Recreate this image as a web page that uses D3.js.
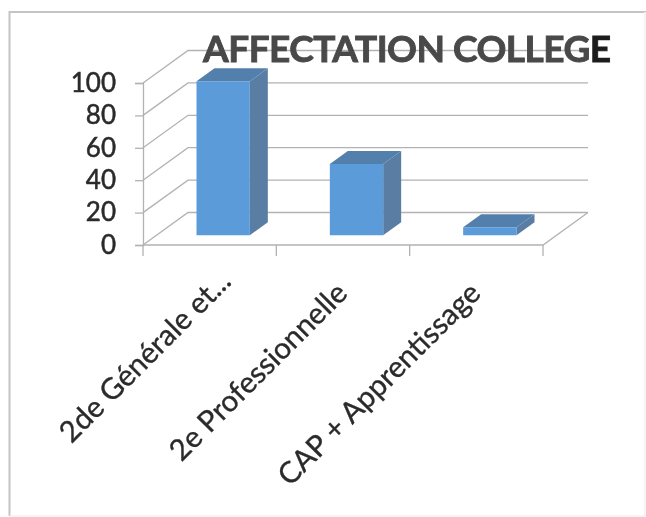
<!DOCTYPE html>
<html>
<head>
<meta charset="utf-8">
<script src="https://cdn.jsdelivr.net/npm/d3@7"></script>
<style>
  body { margin: 0; background: #fff; }
  text { font-family: Lato, sans-serif; }
</style>
</head>
<body>
<div id="chart"></div>
<script>
var categories = ["2de Générale et...", "2e Professionnelle", "CAP + Apprentissage"];
var values = [95, 44, 5];
var yTicks = [0, 20, 40, 60, 80, 100];

var svgWidth = 646;
var svgHeight = 517;

// depth of the 3d box: back wall is shifted this far from the front plane
var depthX = 45;
var depthY = -32.5;
var barFront = 0.3;
var barBack = 0.7;

var svg = d3.select("#chart")
  .append("svg")
  .attr("width", svgWidth)
  .attr("height", svgHeight)
  .style("display", "block");

// the reference is a scan, everything is slightly soft
svg.append("filter")
  .attr("id", "soft")
  .append("feGaussianBlur")
  .attr("stdDeviation", 0.5);

var root = svg.append("g").attr("filter", "url(#soft)");

var xScale = d3.scaleBand()
  .domain(categories)
  .range([143, 543]);

var yScale = d3.scaleLinear()
  .domain([0, 100])
  .range([245, 83]);

// page frame
root.append("path")
  .attr("d", "M646,12H9.5V516")
  .attr("fill", "none")
  .attr("stroke", "#c4c4c4")
  .attr("stroke-width", 2);
root.append("path")
  .attr("d", "M9.5,516H646M645,12V516")
  .attr("fill", "none")
  .attr("stroke", "#f2f2f2")
  .attr("stroke-width", 1.5);

// walls
var x0 = xScale.range()[0];
var x1 = xScale.range()[1];

var gridColor = "#b2b2b2";

root.selectAll(".grid")
  .data(yTicks)
  .enter()
  .append("path")
  .attr("class", "grid")
  .attr("fill", "none")
  .attr("stroke", gridColor)
  .attr("stroke-width", 1.3)
  .attr("d", function(d) {
    var y = yScale(d);
    return "M" + x0 + "," + y + "L" + (x0 + depthX) + "," + (y + depthY) + "H" + (x1 + depthX);
  });

// floor
root.append("path")
  .attr("d", "M" + x0 + "," + yScale(0) + "H" + x1 + "L" + (x1 + depthX) + "," + (yScale(0) + depthY))
  .attr("fill", "none")
  .attr("stroke", gridColor)
  .attr("stroke-width", 1.3);

// y axis
var leftAxis = d3.axisLeft(yScale)
  .tickValues(yTicks)
  .tickSize(8)
  .tickPadding(19);

var yAxis = root.append("g")
  .attr("transform", "translate(" + x0 + ",0)")
  .call(leftAxis);
yAxis.select(".domain").attr("stroke", gridColor).attr("stroke-width", 1.3);
yAxis.selectAll("line").attr("stroke", gridColor).attr("stroke-width", 1.3);
yAxis.selectAll("text")
  .attr("font-size", 26)
  .attr("fill", "#2b2b2b")
  .attr("stroke", "#2b2b2b")
  .attr("stroke-width", 0.5);
yAxis.style("font-family", null);

// x axis, ticks sit between the categories
root.selectAll(".xtick")
  .data(categories.concat([null]))
  .enter()
  .append("line")
  .attr("class", "xtick")
  .attr("x1", function(d) { return d === null ? x1 : xScale(d); })
  .attr("x2", function(d) { return d === null ? x1 : xScale(d); })
  .attr("y1", yScale(0))
  .attr("y2", yScale(0) + 11)
  .attr("stroke", gridColor)
  .attr("stroke-width", 1.3);

var bottomAxis = d3.axisBottom(xScale).tickSize(0);
var xAxis = root.append("g")
  .attr("transform", "translate(0," + yScale(0) + ")")
  .call(bottomAxis);
xAxis.select(".domain").remove();

// the truncated first label ends further right than the other two
function labelX(c, i) { return i === 0 ? 23 : 6; }
function labelY(c, i) { return i === 0 ? 38 : 50; }

xAxis.selectAll("text")
  .attr("font-size", 29.5)
  .attr("fill", "#2b2b2b")
  .attr("stroke", "#2b2b2b")
  .attr("stroke-width", 0.35)
  .attr("text-anchor", "end")
  .attr("x", labelX)
  .attr("y", labelY)
  .attr("dy", 0)
  .attr("transform", function(c, i) {
    return "rotate(-45 " + labelX(c, i) + " " + labelY(c, i) + ")";
  });

// bars
var barWidth = xScale.bandwidth() * 0.4;

function pt(x, v, z) {
  return [x + z * depthX, yScale(v) + z * depthY];
}

var bars = root.selectAll(".bar")
  .data(categories)
  .enter()
  .append("g")
  .attr("class", "bar");

function face(fill, corners) {
  bars.append("path")
    .attr("fill", fill)
    .attr("d", function(c, i) {
      var left = xScale(c) + (xScale.bandwidth() - barWidth) / 2;
      return d3.line()(corners(left, left + barWidth, values[i])) + "Z";
    });
}

// side
face("#5a7ea3", function(l, r, v) {
  return [pt(r, 0, barFront), pt(r, 0, barBack), pt(r, v, barBack), pt(r, v, barFront)];
});
// top
face("#527fac", function(l, r, v) {
  return [pt(l, v, barFront), pt(l, v, barBack), pt(r, v, barBack), pt(r, v, barFront)];
});
// front
face("#5b9bd9", function(l, r, v) {
  return [pt(l, 0, barFront), pt(l, v, barFront), pt(r, v, barFront), pt(r, 0, barFront)];
});

// title, the last letter came out darker on the scan
var title = root.append("text")
  .attr("x", 203)
  .attr("y", 62)
  .attr("font-size", 37)
  .attr("font-weight", 700)
  .attr("letter-spacing", -0.5)
  .attr("fill", "#484848")
  .attr("stroke", "#484848")
  .attr("stroke-width", 0.9);
title.append("tspan").text("AFFECTATION COLLEG");
title.append("tspan")
  .attr("fill", "#1e1e1e")
  .attr("stroke", "#1e1e1e")
  .text("E");
</script>
</body>
</html>
